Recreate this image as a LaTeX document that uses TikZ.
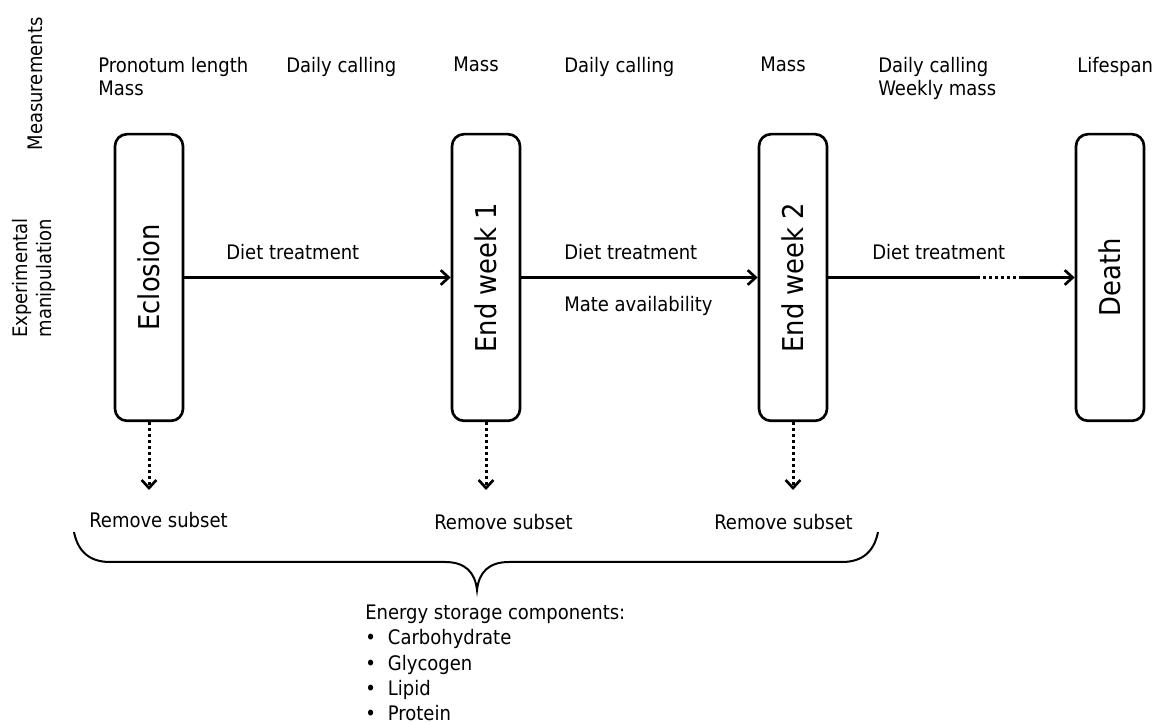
\documentclass[tikz,border=0pt]{standalone}
\usepackage{fontspec}
\setmainfont{DejaVu Sans Condensed}
\usetikzlibrary{arrows.meta,positioning}
\begin{document}
\begin{tikzpicture}[x=0.75pt,y=-0.75pt,line width=2pt,
  stage node/.style={draw,rounded corners=9pt,minimum width=215pt,minimum height=51pt,inner sep=0pt,font=\fontsize{21.5}{25}\selectfont,rotate=90},
  txt/.style={inner sep=0pt,font=\fontsize{15}{17.4}\selectfont,align=left},
  dots/.style={line width=2.25pt,dash pattern=on 2.25pt off 2.25pt},
  flow/.style={-{Straight Barb[length=6pt,width=11pt]}},
  drop/.style={dots,-{Straight Barb[length=6pt,width=11pt,line width=2pt]}}]
 		\useasboundingbox (0,0) rectangle (1154,723);
 		% row labels
 		\node[txt,rotate=90] (meas) at (35,84) {Measurements};
 		\node[txt,rotate=90,align=center] (manip) at (34,278) {Experimental\\manipulation};
 		
 		% stages
 		\node[stage node] (ecl) at (149,277.5) {Eclosion};
 		\node[stage node] (wk1) at (486,277.5) {End week 1};
 		\node[stage node] (wk2) at (793,277.5) {End week 2};
 		\node[stage node] (death) at (1110,277.5) {Death};
 		
 		% measurements
 		\node[txt,anchor=north west] (m1) at (97,56) {Pronotum length\\Mass};
 		\node[txt,anchor=north west] (m2) at (285,56) {Daily calling};
 		\node[txt,anchor=north west] (m3) at (452,56) {Mass};
 		\node[txt,anchor=north west] (m4) at (563,56) {Daily calling};
 		\node[txt,anchor=north west] (m5) at (759,56) {Mass};
 		\node[txt,anchor=north west] (m6) at (877,56) {Daily calling\\Weekly mass};
 		\node[txt,anchor=north west] (m7) at (1076,56) {Lifespan};
 		
 		% manipulation
 		\node[txt,anchor=base west] (d1) at (225,260) {Diet treatment};
 		\node[txt,anchor=base west] (d2) at (563,260) {Diet treatment};
 		\node[txt,anchor=base west] (mate) at (563,312) {Mate availability};
 		\node[txt,anchor=base west] (d3) at (871,260) {Diet treatment};
 		\coordinate (gapA) at (977,277.5);
 		\coordinate (gapB) at (1022,277.5);
 		
 		\draw[flow] (ecl.south) -- (wk1.north);
 		\draw[flow] (wk1.south) -- (wk2.north);
 		\draw (wk2.south) -- (gapA);
 		\draw[dots] (gapA) -- (gapB);
 		\draw[flow] (gapB) -- (death.north);
 		
 		% removal
 		\coordinate (r1) at (149,490);
 		\coordinate (r2) at (486,490);
 		\coordinate (r3) at (793,490);
 		\draw[drop] (ecl.west) -- (r1);
 		\draw[drop] (wk1.west) -- (r2);
 		\draw[drop] (wk2.west) -- (r3);
 		\node[txt,anchor=base west] (s1) at (88,528) {Remove subset};
 		\node[txt,anchor=base west] (s2) at (433,530) {Remove subset};
 		\node[txt,anchor=base west] (s3) at (713,530) {Remove subset};
 		
 		% brace
 		\draw[line width=1.5pt] (74,532) .. controls (78,552) and (90,562) .. (110,562) -- (445,562)
 		  .. controls (465,562) and (475,572) .. (477,590)
 		  .. controls (479,572) and (489,562) .. (509,562) -- (842,562)
 		  .. controls (862,562) and (874,552) .. (878,532);
 		
 		\node[txt,anchor=north west,font=\fontsize{15}{18.8}\selectfont] (energy) at (364,604)
 		  {Energy storage components:\\
 		   •\hspace{9pt}Carbohydrate\\
 		   •\hspace{9pt}Glycogen\\
 		   •\hspace{9pt}Lipid\\
 		   •\hspace{9pt}Protein};
\end{tikzpicture}
\end{document}
